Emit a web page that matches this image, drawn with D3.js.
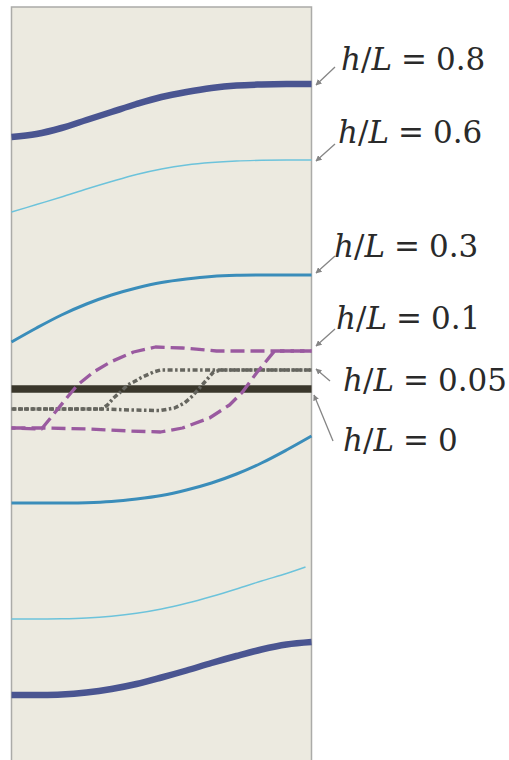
<!DOCTYPE html>
<html>
<head>
<meta charset="utf-8">
<script src="https://cdn.jsdelivr.net/npm/d3@7/dist/d3.min.js"></script>
<style>
  html, body { margin: 0; padding: 0; background: #ffffff; }
  svg { display: block; }
</style>
</head>
<body>
<svg id="chart" width="509" height="760"></svg>
<script>
// Streamline positions across the channel (x along flow, y normal to the wall at 0)
const xGrid = [0, 0.25, 0.5, 0.75, 1.0, 1.25, 1.5, 1.75, 2.0, 2.25, 2.5, 2.75, 3.0];

const h08Upper = [2.52, 2.55, 2.61, 2.69, 2.77, 2.85, 2.92, 2.97, 3.01, 3.035, 3.045, 3.05, 3.05];
const h08Lower = [-3.06, -3.06, -3.055, -3.035, -3.00, -2.95, -2.885, -2.815, -2.74, -2.67, -2.605, -2.555, -2.53];

const h06Upper = [1.77, 1.845, 1.92, 2.00, 2.075, 2.145, 2.20, 2.24, 2.265, 2.28, 2.287, 2.29, 2.29];
const h06LowerX = [0, 0.25, 0.5, 0.75, 1.0, 1.25, 1.5, 1.75, 2.0, 2.25, 2.5, 2.75, 2.94];
const h06Lower = [-2.30, -2.30, -2.298, -2.29, -2.272, -2.243, -2.20, -2.143, -2.075, -2.00, -1.92, -1.845, -1.78];

const h03Upper = [0.47, 0.61, 0.74, 0.85, 0.94, 1.01, 1.065, 1.10, 1.125, 1.137, 1.14, 1.14, 1.14];
const h03Lower = [-1.14, -1.14, -1.14, -1.137, -1.125, -1.10, -1.065, -1.01, -0.94, -0.85, -0.74, -0.61, -0.47];

// h/L = 0.1: two branches that split and rejoin
const h01AX = [0, 0.30, 0.77, 1.19, 1.49, 1.71, 1.98, 2.18, 2.31, 2.45, 2.63, 3.0];
const h01AY = [-0.39, -0.39, -0.40, -0.42, -0.43, -0.39, -0.29, -0.16, -0.03, 0.16, 0.38, 0.38];
const h01BX = [0, 0.30, 0.39, 0.56, 0.66, 0.82, 0.99, 1.22, 1.44, 1.71, 2.05, 2.38, 3.0];
const h01BY = [-0.39, -0.40, -0.29, -0.08, 0.04, 0.17, 0.27, 0.37, 0.42, 0.41, 0.38, 0.38, 0.38];

// h/L = 0.05
const h005AX = [0, 0.89, 1.19, 1.49, 1.63, 1.73, 1.81, 1.88, 1.95, 2.02, 2.10, 3.0];
const h005AY = [-0.20, -0.20, -0.21, -0.215, -0.19, -0.14, -0.07, 0.01, 0.09, 0.17, 0.19, 0.19];
const h005BX = [0, 0.90, 0.96, 1.02, 1.09, 1.16, 1.22, 1.29, 1.42, 1.49, 1.70, 3.0];
const h005BY = [-0.20, -0.20, -0.16, -0.09, -0.03, 0.04, 0.07, 0.11, 0.17, 0.19, 0.19, 0.19];

// h/L = 0: the wall itself
const h0X = [0, 3.0];
const h0Y = [0, 0];

const labelValues = ["0.8", "0.6", "0.3", "0.1", "0.05", "0"];

const svg = d3.select("#chart");

const x = d3.scaleLinear().domain([0, 3]).range([11.5, 311.5]);
const y = d3.scaleLinear().domain([-3.71, 3.82]).range([760, 7]);

// panel
svg.append("rect")
  .attr("x", x(0)).attr("y", y(3.82))
  .attr("width", x(3) - x(0)).attr("height", 780)
  .attr("fill", "#ECEAE0")
  .attr("stroke", "#ABABA8").attr("stroke-width", 1.5);

const zip = (xs, ys) => xs.map((v, i) => [v, ys[i]]);

const smooth = d3.line().x(d => x(d[0])).y(d => y(d[1])).curve(d3.curveCatmullRom.alpha(0.5));
const straight = d3.line().x(d => x(d[0])).y(d => y(d[1])).curve(d3.curveLinear);

const series = [
  { pts: zip(xGrid, h08Upper), color: "#4A5591", width: 6.5, gen: smooth },
  { pts: zip(xGrid, h08Lower), color: "#4A5591", width: 6.5, gen: smooth },
  { pts: zip(xGrid, h06Upper), color: "#6CC3DB", width: 1.4, gen: smooth },
  { pts: zip(h06LowerX, h06Lower), color: "#6CC3DB", width: 1.4, gen: smooth },
  { pts: zip(xGrid, h03Upper), color: "#3A8DBA", width: 3, gen: smooth },
  { pts: zip(xGrid, h03Lower), color: "#3A8DBA", width: 3, gen: smooth },
  { pts: zip(h0X, h0Y), color: "#3A372B", width: 7.5, gen: straight },
  { pts: zip(h005AX, h005AY), color: "#66665F", width: 3.5, gen: straight, dash: "5 2.5 2.5 2.5" },
  { pts: zip(h005BX, h005BY), color: "#66665F", width: 3.5, gen: straight, dash: "5 2.5 2.5 2.5", offset: 6 },
  { pts: zip(h01AX, h01AY), color: "#9A5AA0", width: 3.3, gen: straight, dash: "14 6" },
  { pts: zip(h01BX, h01BY), color: "#9A5AA0", width: 3.3, gen: straight, dash: "14 6", offset: 10 }
];

svg.append("g").selectAll("path")
  .data(series)
  .join("path")
  .attr("d", d => d.gen(d.pts))
  .attr("fill", "none")
  .attr("stroke", d => d.color)
  .attr("stroke-width", d => d.width)
  .attr("stroke-dasharray", d => d.dash || null)
  .attr("stroke-dashoffset", d => d.offset || 0)
  .attr("stroke-linejoin", "round");

// arrow marker
svg.append("defs").append("marker")
  .attr("id", "arr")
  .attr("viewBox", "0 0 10 10")
  .attr("refX", 9).attr("refY", 5)
  .attr("markerWidth", 6).attr("markerHeight", 6)
  .attr("markerUnits", "userSpaceOnUse")
  .attr("orient", "auto")
  .append("path").attr("d", "M0,0 L10,5 L0,10 z").attr("fill", "#858585");

// annotation layout: text origin and arrow tail/tip
const annot = [
  { tx: 341, ty: 70,  ax0: 335, ay0: 67,  ax1: 316, ay1: 85 },
  { tx: 338, ty: 143, ax0: 335, ay0: 144, ax1: 316, ay1: 161 },
  { tx: 334, ty: 257, ax0: 335, ay0: 256, ax1: 316, ay1: 273 },
  { tx: 336, ty: 329, ax0: 335, ay0: 329, ax1: 316, ay1: 346 },
  { tx: 343, ty: 391, ax0: 330, ay0: 381, ax1: 316, ay1: 369 },
  { tx: 343, ty: 451, ax0: 333, ay0: 441, ax1: 314, ay1: 395 }
];

const ann = svg.append("g").selectAll("g")
  .data(annot.map((a, i) => ({ ...a, value: labelValues[i] })))
  .join("g");

ann.append("line")
  .attr("x1", d => d.ax0).attr("y1", d => d.ay0)
  .attr("x2", d => d.ax1).attr("y2", d => d.ay1)
  .attr("stroke", "#858585").attr("stroke-width", 1.3)
  .attr("marker-end", "url(#arr)");

const t = ann.append("text")
  .attr("x", d => d.tx).attr("y", d => d.ty)
  .attr("font-family", "'DejaVu Serif', 'Liberation Serif', serif")
  .attr("font-size", 31)
  .attr("fill", "#2a2a2a");

t.append("tspan").attr("font-style", "italic").text("h");
t.append("tspan").text("/");
t.append("tspan").attr("font-style", "italic").text("L");
t.append("tspan").attr("dx", 9).text("=");
t.append("tspan").attr("dx", 9).text(d => d.value);
</script>
</body>
</html>
